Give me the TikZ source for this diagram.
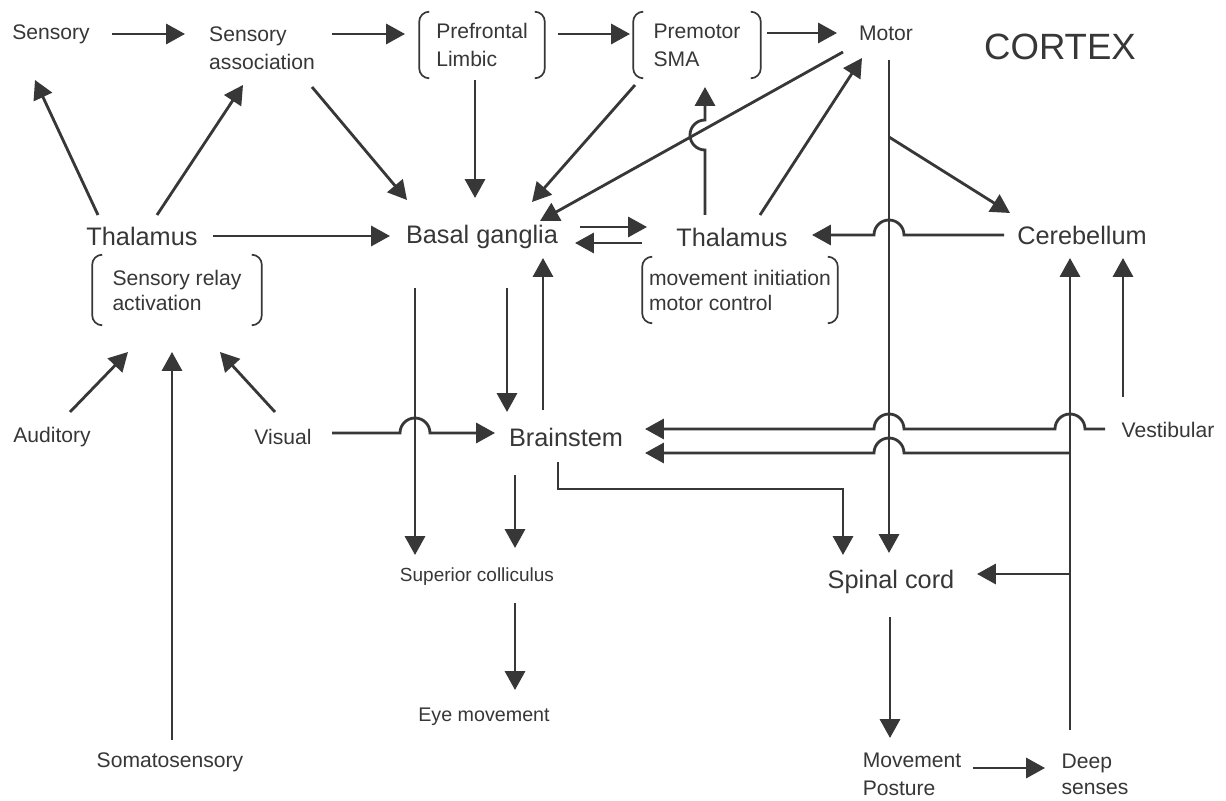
\documentclass[tikz,border=0pt]{standalone}
\usepackage{fontspec}
\setmainfont{Liberation Sans}
\usetikzlibrary{arrows.meta}
\definecolor{inkgray}{RGB}{55,55,55}
\newcommand{\parenbox}[1]{%
  \draw[bracketline] ([xshift=0.25cm]#1.north west) -- (#1.north west) -- (#1.south west) -- ([xshift=0.25cm]#1.south west);
  \draw[bracketline] ([xshift=-0.25cm]#1.north east) -- (#1.north east) -- (#1.south east) -- ([xshift=-0.25cm]#1.south east);}

\begin{document}
\begin{tikzpicture}[
    x=0.025cm, y=-0.025cm,
    lbl/.style={text=inkgray, font=\fontsize{15}{20}\selectfont, align=left, inner sep=0pt},
    big/.style={lbl, font=\fontsize{18}{22}\selectfont},
    paren/.style={lbl, minimum width=#1},
    arrow/.style={draw=inkgray, line width=2pt, -{Triangle[length=0.47cm,width=0.5cm]}},
    bracketline/.style={draw=inkgray, line width=1.2pt, rounded corners=0.25cm}
]
\path[use as bounding box, fill=white] (0,0) rectangle (1226,801);

% Cortex row
\node[lbl] (sensory) at (51,34) {Sensory};
\node[lbl] (sensassoc) at (262,48) {Sensory\\association};
\node[paren=3.125cm, minimum height=1.65cm] (prefrontal) at (482,45) {Prefrontal\\Limbic};
\node[paren=3.175cm, minimum height=1.65cm] (premotor) at (697,45) {Premotor\\SMA};
\node[lbl] (motor) at (886,33) {Motor};
\node[lbl, font=\fontsize{26}{30}\selectfont] (cortex) at (1060,47) {CORTEX};

% Subcortical row
\node[big] (thalL) at (142,236) {Thalamus};
\node[paren=4.225cm, minimum height=1.75cm, font=\fontsize{15}{17.8}\selectfont] (relay) at (177,290) {Sensory relay\\activation};
\node[big] (basal) at (482,237) {Basal ganglia};
\node[big] (thalR) at (732,237) {Thalamus};
\node[paren=4.875cm, minimum height=1.65cm, font=\fontsize{15}{17.8}\selectfont] (movinit) at (740,290) {movement initiation\\motor control};
\node[big] (cerebellum) at (1082,235) {Cerebellum};

% Inputs and brainstem
\node[lbl] (auditory) at (52,437) {Auditory};
\node[lbl] (visual) at (283,437) {Visual};
\node[big] (brainstem) at (566,437) {Brainstem};
\node[lbl] (vestibular) at (1168,430) {Vestibular};
\node[lbl, font=\fontsize{13.5}{16}\selectfont] (supcoll) at (477,577) {Superior colliculus};
\node[big] (spinal) at (891,582) {Spinal cord};
\node[lbl, font=\fontsize{14}{16}\selectfont] (eyemove) at (484,717) {Eye movement};
\node[lbl] (somato) at (170,762) {Somatosensory};
\node[lbl] (movepost) at (912,774) {Movement\\Posture};
\node[lbl, font=\fontsize{15}{18.5}\selectfont] (deep) at (1095,774) {Deep\\senses};

% Brackets
\parenbox{prefrontal}
\parenbox{premotor}
\parenbox{relay}
\parenbox{movinit}

% Junctions
\coordinate (mj) at (889,137);
\coordinate (jb) at (1070,453);
\coordinate (jsp) at (1070,574);

% Arrows: cortex
\draw[arrow] ([shift={(61,0)}]sensory.center) -- ([shift={(-77,-14)}]sensassoc.center);
\draw[arrow] ([shift={(70,-14)}]sensassoc.center) -- ([shift={(-77,-11)}]prefrontal.center);
\draw[arrow] ([shift={(76,-11)}]prefrontal.center) -- ([shift={(-67,-11)}]premotor.center);
\draw[arrow] ([shift={(70,-12)}]premotor.center) -- ([shift={(-49,0)}]motor.center);
\draw[arrow] ([shift={(-44,-21)}]thalL.center) -- ([shift={(-16,46)}]sensory.center);
\draw[arrow] ([shift={(15,-21)}]thalL.center) -- ([shift={(-19,37)}]sensassoc.center);

% Arrows: into basal ganglia
\draw[arrow] ([shift={(71,0)}]thalL.center) -- ([shift={(-92,-1)}]basal.center);
\draw[arrow] ([shift={(50,39)}]sensassoc.center) -- ([shift={(-75,-37)}]basal.center);
\draw[arrow] ([shift={(-7,35)}]prefrontal.center) -- ([shift={(-7,-39)}]basal.center);
\draw[arrow] ([shift={(-62,40)}]premotor.center) -- ([shift={(50,-35)}]basal.center);
\draw[arrow] ([shift={(-43,19)}]motor.center) -- ([shift={(58,-16)}]basal.center);
\draw[arrow] ([shift={(98,-10)}]basal.center) -- ([shift={(-85,-10)}]thalR.center);
\draw[arrow] ([shift={(-90,6)}]thalR.center) -- ([shift={(93,6)}]basal.center);

% Arrows: thalamus and cerebellum
\draw[arrow] ([shift={(-27,-22)}]thalR.center) -- ++(0,-65) arc[start angle=-90, end angle=-270, radius=0.375cm] -- ([shift={(8,42)}]premotor.center);
\draw[arrow] ([shift={(28,-22)}]thalR.center) -- ([shift={(-24,25)}]motor.center);
\draw[arrow] ([shift={(3,27)}]motor.center) -- ([shift={(-2,-29)}]spinal.center);
\draw[arrow] (mj) -- ([shift={(-72,-22)}]cerebellum.center);
\draw[arrow] ([shift={(-78,0)}]cerebellum.center) -- ++(-100,0) arc[start angle=0, end angle=180, radius=0.375cm] -- ([shift={(80,-2)}]thalR.center);

% Arrows: sensory inputs
\draw[arrow] ([shift={(18,-25)}]auditory.center) -- ([shift={(-49,62)}]relay.center);
\draw[arrow] ([shift={(-8,-25)}]visual.center) -- ([shift={(43,62)}]relay.center);
\draw[arrow] ([shift={(2,-22)}]somato.center) -- ([shift={(-5,62)}]relay.center);
\draw[arrow] ([shift={(49,-4)}]visual.center) -- ++(68,0) arc[start angle=180, end angle=0, radius=0.375cm] -- ([shift={(-71,-4)}]brainstem.center);

% Arrows: brainstem
\draw[arrow] ([shift={(-67,51)}]basal.center) -- ([shift={(-62,-22)}]supcoll.center);
\draw[arrow] ([shift={(25,51)}]basal.center) -- ([shift={(-59,-25)}]brainstem.center);
\draw[arrow] ([shift={(-23,-27)}]brainstem.center) -- ([shift={(61,21)}]basal.center);
\draw[arrow] ([shift={(-51,38)}]brainstem.center) -- ([shift={(38,-29)}]supcoll.center);
\draw[arrow] ([shift={(38,26)}]supcoll.center) -- ([shift={(31,-27)}]eyemove.center);
\draw[arrow] ([shift={(-8,25)}]brainstem.center) -- ++(0,27) -| ([shift={(-48,-27)}]spinal.center);

% Arrows: vestibular and deep senses
\draw[arrow] ([shift={(-63,-1)}]vestibular.center) -- ++(-20,0) arc[start angle=0, end angle=180, radius=0.375cm] -- ++(-151,0) arc[start angle=0, end angle=180, radius=0.375cm] -- ([shift={(79,-8)}]brainstem.center);
\draw[arrow] ([shift={(-45,-33)}]vestibular.center) -- ([shift={(41,23)}]cerebellum.center);
\draw[arrow] ([shift={(-25,-44)}]deep.center) -- ([shift={(-12,23)}]cerebellum.center);
\draw[arrow] (jb) -- ++(-166,0) arc[start angle=0, end angle=180, radius=0.375cm] -- ([shift={(79,16)}]brainstem.center);
\draw[arrow] (jsp) -- ([shift={(86,-8)}]spinal.center);
\draw[arrow] ([shift={(-1,35)}]spinal.center) -- ([shift={(-22,-36)}]movepost.center);
\draw[arrow] ([shift={(61,-6)}]movepost.center) -- ([shift={(-50,-6)}]deep.center);

\end{tikzpicture}
\end{document}
